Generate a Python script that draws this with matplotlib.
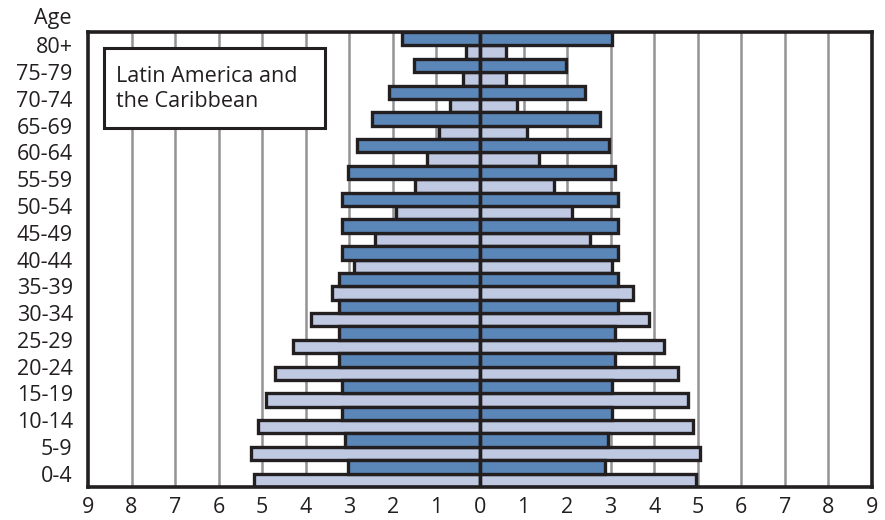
import matplotlib
matplotlib.use("Agg")
import matplotlib.pyplot as plt
from matplotlib.patches import Rectangle
import numpy as np

plt.rcParams['font.family'] = ['Open Sans', 'DejaVu Sans']

ages = ["0-4", "5-9", "10-14", "15-19", "20-24", "25-29", "30-34", "35-39",
        "40-44", "45-49", "50-54", "55-59", "60-64", "65-69", "70-74", "75-79", "80+"]
# light bars (earlier year), left and right side, percent
light_left = [5.18, 5.26, 5.10, 4.91, 4.70, 4.30, 3.88, 3.39, 2.89, 2.42, 1.92, 1.49, 1.21, 0.95, 0.68, 0.38, 0.32]
light_right = [4.97, 5.04, 4.90, 4.77, 4.55, 4.22, 3.87, 3.51, 3.03, 2.53, 2.11, 1.71, 1.35, 1.09, 0.86, 0.59, 0.59]
# dark bars (later year)
dark_left = [3.02, 3.10, 3.17, 3.17, 3.23, 3.23, 3.23, 3.23, 3.16, 3.16, 3.16, 3.03, 2.82, 2.49, 2.08, 1.51, 1.78]
dark_right = [2.88, 2.95, 3.03, 3.03, 3.09, 3.09, 3.16, 3.16, 3.16, 3.16, 3.16, 3.11, 2.97, 2.76, 2.40, 1.98, 3.03]
xtick_vals = list(range(-9, 10))
title_lines = ["Latin America and", "the Caribbean"]

DARK = "#5b86b8"
LIGHT = "#bfc9e2"
EDGE = "#231f20"
GRID = "#939397"
TXT = "#231f20"
FS = 15.5

W, H = 885, 520
fig = plt.figure(figsize=(W / 100, H / 100), dpi=100)
ax = fig.add_axes([88 / W, 1 - 487 / H, (872 - 88) / W, (487 - 32) / H])

y = np.arange(len(ages))
lw = 2.4
ax.barh(y - 0.25, -np.array(light_left), height=0.5, color=LIGHT, edgecolor=EDGE, linewidth=lw, zorder=3)
ax.barh(y - 0.25, light_right, height=0.5, color=LIGHT, edgecolor=EDGE, linewidth=lw, zorder=3)
ax.barh(y + 0.25, -np.array(dark_left), height=0.5, color=DARK, edgecolor=EDGE, linewidth=lw, zorder=4)
ax.barh(y + 0.25, dark_right, height=0.5, color=DARK, edgecolor=EDGE, linewidth=lw, zorder=4)

for v in xtick_vals:
    if v != 0 and abs(v) != 9:
        ax.axvline(v, color=GRID, linewidth=1.8, zorder=1)
ax.axvline(0, color=EDGE, linewidth=2.4, zorder=5)

ax.set_xlim(-9, 9)
ax.set_ylim(-0.5, len(ages) - 0.5)
ax.set_xticks(xtick_vals)
ax.set_xticklabels([str(abs(v)) for v in xtick_vals], fontsize=FS, color=TXT)
ax.set_yticks(y)
ax.set_yticklabels(ages, fontsize=FS, color=TXT)
ax.tick_params(axis='both', length=0)
ax.tick_params(axis='x', pad=7)
ax.tick_params(axis='y', pad=11)
for s in ax.spines.values():
    s.set_linewidth(2.6)
    s.set_color(EDGE)
    s.set_zorder(6)

fig.text(72 / W, 1 - 24 / H, "Age", ha='right', va='baseline', fontsize=FS, color=TXT)

fig.patches.append(Rectangle((104 / W, 1 - 128 / H), 221 / W, 80 / H, transform=fig.transFigure,
                             facecolor='white', edgecolor=EDGE, linewidth=2.2, zorder=10))
fig.text(116 / W, 1 - 82 / H, title_lines[0], ha='left', va='baseline', fontsize=FS, color=TXT, zorder=11)
fig.text(116 / W, 1 - 107 / H, title_lines[1], ha='left', va='baseline', fontsize=FS, color=TXT, zorder=11)

fig.savefig("out.png", dpi=100)
